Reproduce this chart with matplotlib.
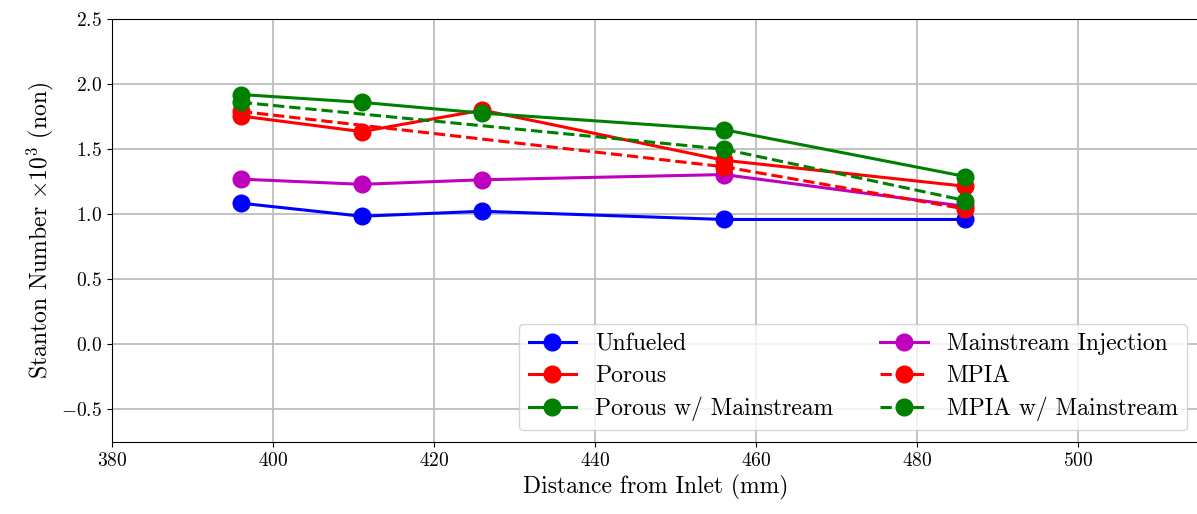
import matplotlib
matplotlib.use("Agg")
import matplotlib.pyplot as plt

plt.rcParams['font.family'] = 'serif'
plt.rcParams['font.serif'] = ['cmr10', 'DejaVu Serif']
plt.rcParams['mathtext.fontset'] = 'cm'
plt.rcParams['axes.formatter.use_mathtext'] = True

x_all = [396, 411, 426, 456, 486]
x_mpia = [396, 456, 486]

unfueled = [1.085, 0.985, 1.023, 0.96, 0.96]
mainstream = [1.27, 1.23, 1.265, 1.305, 1.06]
porous = [1.755, 1.635, 1.80, 1.415, 1.215]
porous_ms = [1.92, 1.86, 1.777, 1.65, 1.29]
mpia = [1.79, 1.365, 1.04]
mpia_ms = [1.86, 1.50, 1.105]

fig = plt.figure(figsize=(11.97, 5.14), dpi=100)
# right edge of the axes sits just past the image edge, as in the original crop
ax = fig.add_axes([0.0936, 0.14, 0.908, 0.823])

lw = 2.2
ms = 12
ax.plot(x_all, unfueled, 'b-o', lw=lw, ms=ms, label="Unfueled")
ax.plot(x_all, porous, 'r-o', lw=lw, ms=ms, label="Porous")
ax.plot(x_all, porous_ms, 'g-o', lw=lw, ms=ms, label="Porous w/ Mainstream")
ax.plot(x_all, mainstream, 'm-o', lw=lw, ms=ms, label="Mainstream Injection")
ax.plot(x_mpia, mpia, 'r--o', lw=lw, ms=ms, label="MPIA")
ax.plot(x_mpia, mpia_ms, 'g--o', lw=lw, ms=ms, label="MPIA w/ Mainstream")

ax.set_xlim(380, 515)
ax.set_ylim(-0.75, 2.5)
ax.set_xticks(range(380, 501, 20))
ax.set_yticks([-0.5, 0, 0.5, 1.0, 1.5, 2.0, 2.5])
ax.grid(True, color='#bdbdbd', lw=1.3)
ax.set_axisbelow(True)
ax.tick_params(labelsize=14)
ax.set_xlabel("Distance from Inlet (mm)", fontsize=17)
ax.set_ylabel(r"Stanton Number $\times10^3$ (non)", fontsize=17)
ax.legend(loc='lower right', ncol=2, fontsize=17, labelspacing=0.4)

fig.savefig("out.png", dpi=100)
